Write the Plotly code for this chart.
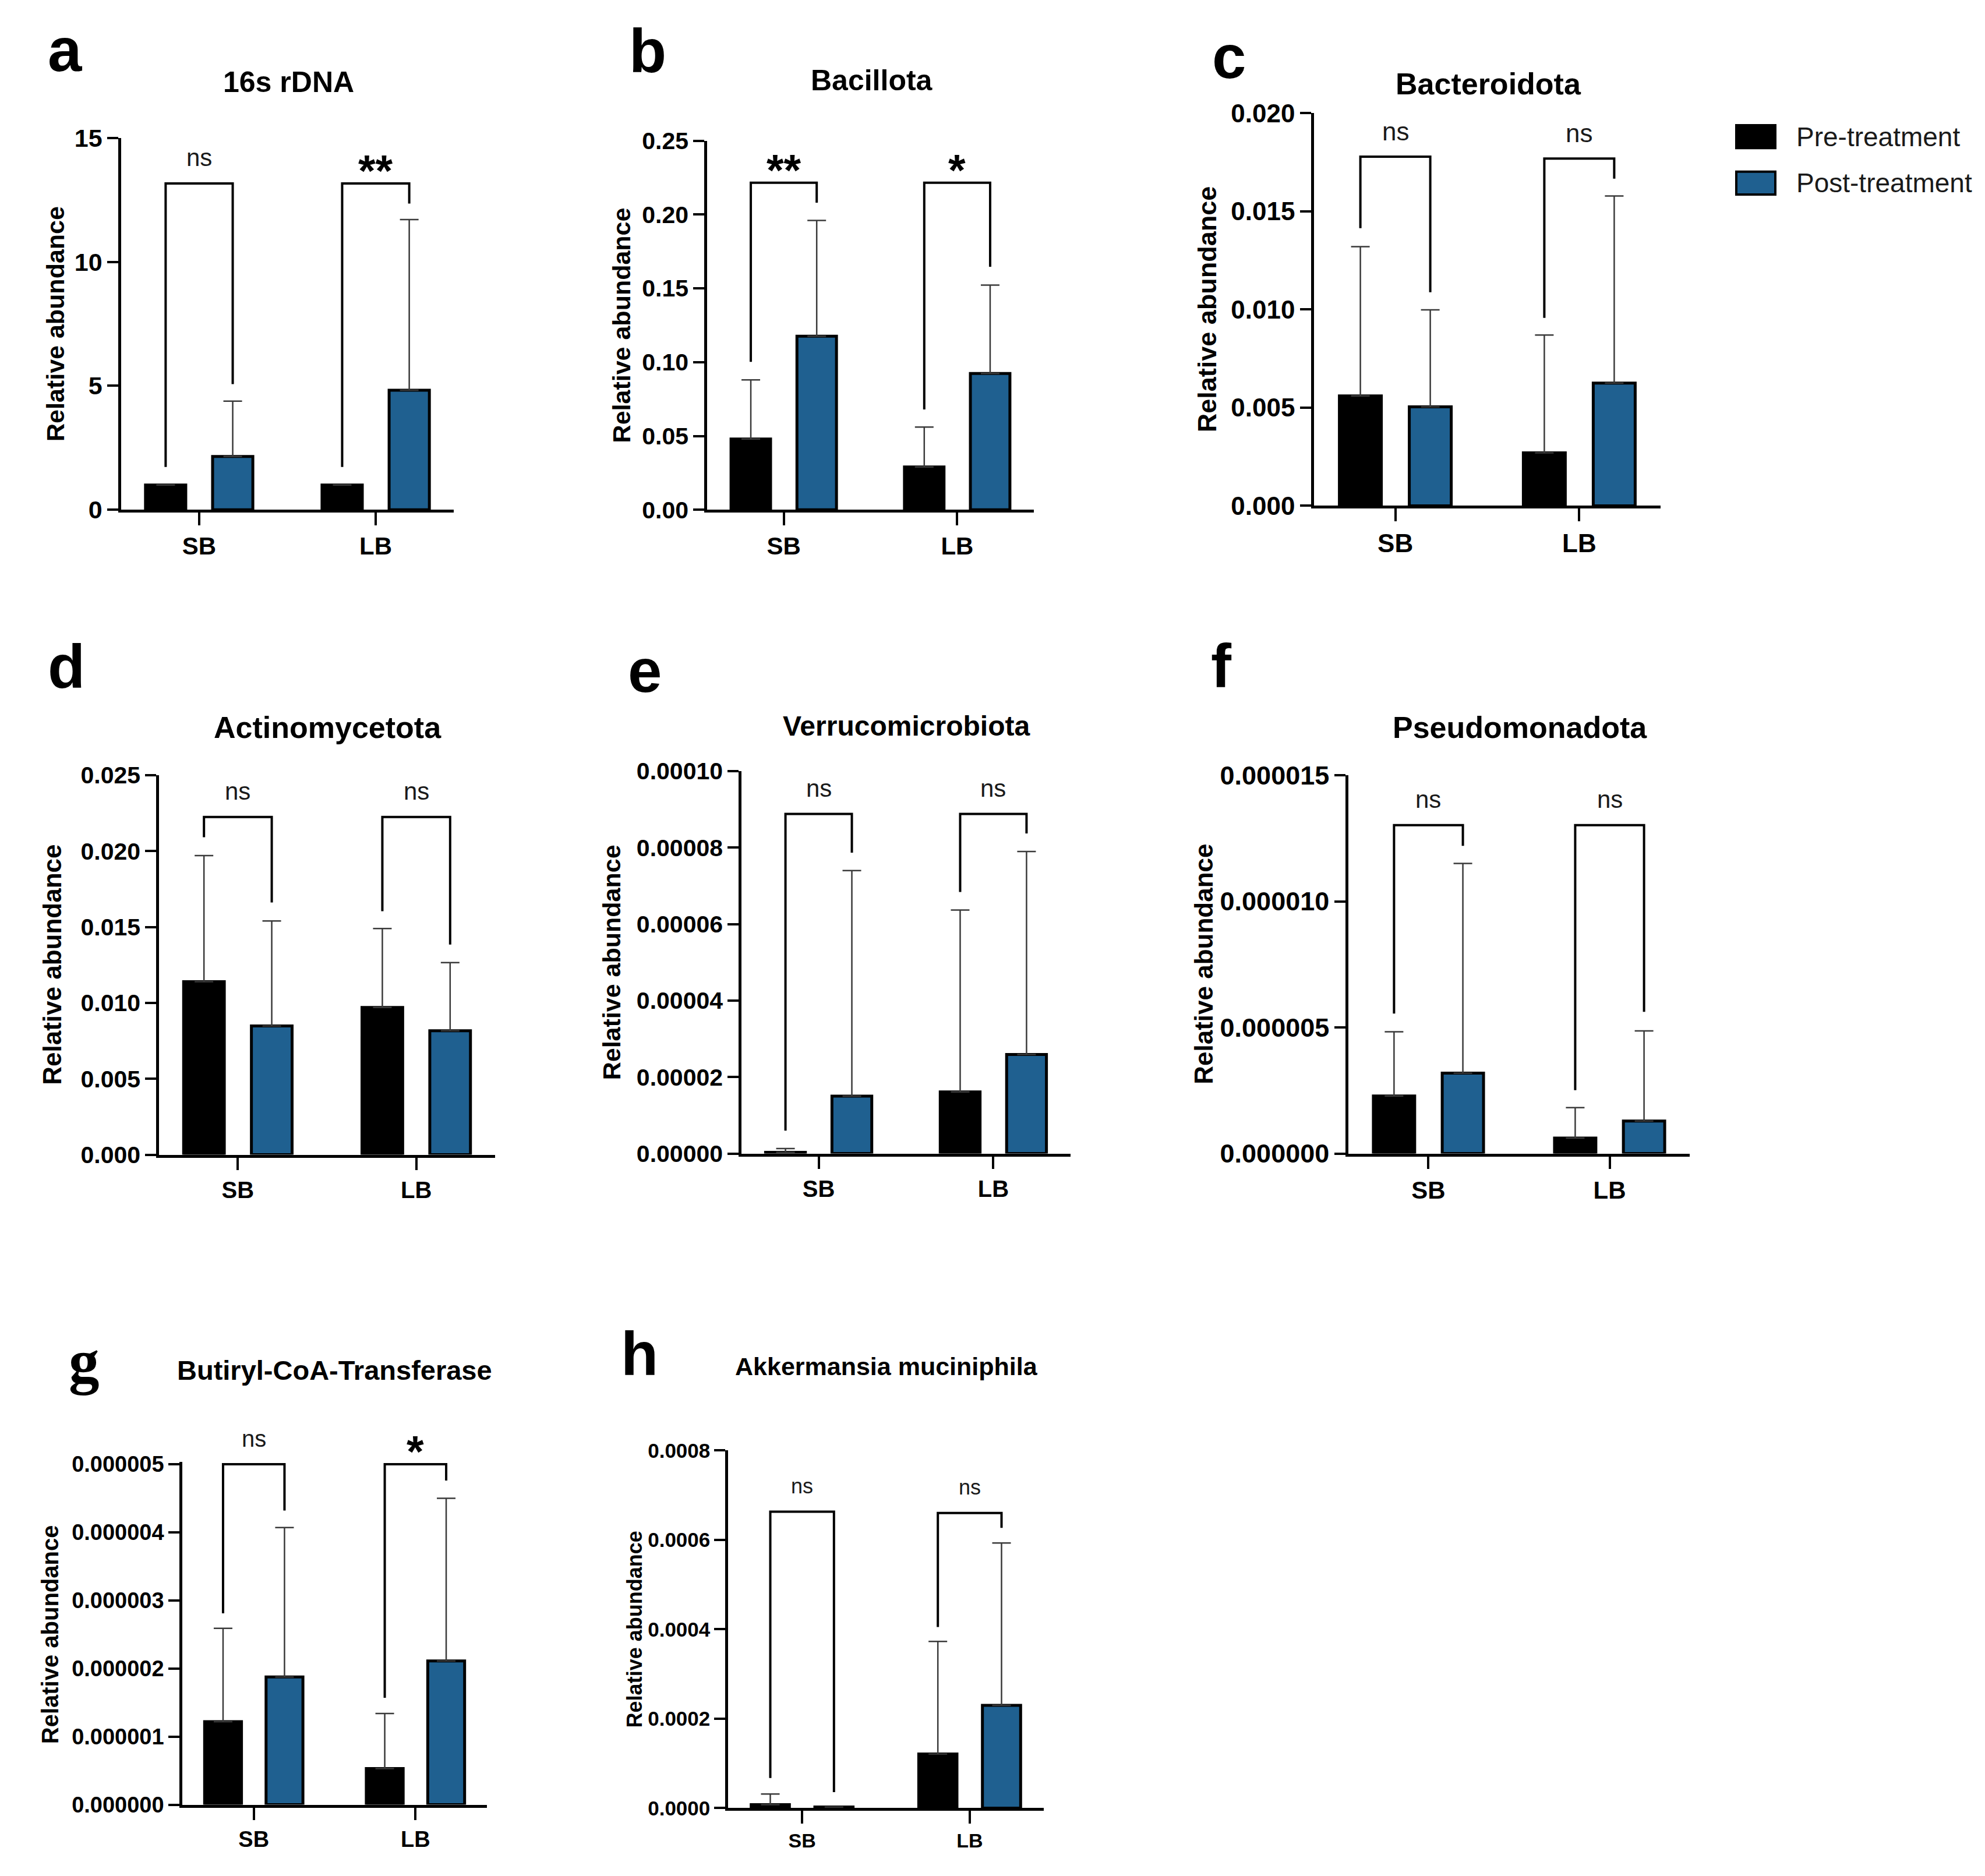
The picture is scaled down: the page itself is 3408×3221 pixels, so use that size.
import plotly.graph_objects as go

W = 3408
H = 3221

groups = ["SB", "LB"]
letters = ["a", "b", "c", "d", "e", "f", "g", "h"]
titles = ["16s rDNA", "Bacillota", "Bacteroidota", "Actinomycetota",
          "Verrucomicrobiota", "Pseudomonadota", "Butiryl-CoA-Transferase",
          "Akkermansia muciniphila"]
legend_labels = ["Pre-treatment", "Post-treatment"]

# bar heights (SB, LB) and the upper error bar length, per panel
pre_mean = [
    [1.0, 1.0],
    [0.048, 0.029],
    [0.0056, 0.0027],
    [0.0114, 0.0097],
    [0.0000003, 0.0000161],
    [0.00000228, 0.00000061],
    [0.00000122, 0.00000053],
    [0.0000079, 0.000121],
]
pre_sd = [
    [0, 0],
    [0.040, 0.027],
    [0.0076, 0.0060],
    [0.0083, 0.0052],
    [0.000001, 0.0000476],
    [0.00000255, 0.00000121],
    [0.00000137, 0.00000081],
    [0.0000238, 0.000252],
]
post_mean = [
    [2.15, 4.82],
    [0.1176, 0.0923],
    [0.00504, 0.00625],
    [0.00848, 0.00816],
    [0.0000150, 0.0000259],
    [0.00000319, 0.00000129],
    [0.000001875, 0.00000211],
    [0.0000024, 0.000230],
]
post_sd = [
    [2.23, 6.88],
    [0.0784, 0.0599],
    [0.00494, 0.00953],
    [0.00692, 0.00449],
    [0.0000590, 0.0000531],
    [0.00000831, 0.00000357],
    [0.000002195, 0.00000239],
    [0, 0.000363],
]

# significance brackets: label, top, bottom of left leg, bottom of right leg
sig_labels = [
    ["ns", "**"], ["**", "*"], ["ns", "ns"], ["ns", "ns"],
    ["ns", "ns"], ["ns", "ns"], ["ns", "*"], ["ns", "ns"],
]
bracket_top = [
    [13.16, 13.16],
    [0.2215, 0.2215],
    [0.01778, 0.01769],
    [0.02225, 0.02225],
    [0.0000888, 0.0000888],
    [0.00001302, 0.00001302],
    [0.000005, 0.000005],
    [0.000663, 0.00066],
]
bracket_left = [
    [1.73, 1.73],
    [0.1002, 0.068],
    [0.01414, 0.00957],
    [0.02091, 0.01604],
    [0.0000060, 0.0000684],
    [0.00000555, 0.00000251],
    [0.00000281, 0.00000157],
    [0.0000675, 0.000405],
]
bracket_right = [
    [5.07, 12.35],
    [0.208, 0.1646],
    [0.01088, 0.01666],
    [0.01662, 0.01384],
    [0.0000787, 0.0000837],
    [0.0000122, 0.00000562],
    [0.00000432, 0.00000476],
    [0.0000357, 0.000627],
]

y_ticks = [
    ["0", "5", "10", "15"],
    ["0.00", "0.05", "0.10", "0.15", "0.20", "0.25"],
    ["0.000", "0.005", "0.010", "0.015", "0.020"],
    ["0.000", "0.005", "0.010", "0.015", "0.020", "0.025"],
    ["0.00000", "0.00002", "0.00004", "0.00006", "0.00008", "0.00010"],
    ["0.000000", "0.000005", "0.000010", "0.000015"],
    ["0.000000", "0.000001", "0.000002", "0.000003", "0.000004", "0.000005"],
    ["0.0000", "0.0002", "0.0004", "0.0006", "0.0008"],
]
y_max = [15, 0.25, 0.020, 0.025, 0.0001, 0.000015, 0.00000503, 0.0008]

# layout (pixels): plot box left, right, top tick, zero line
boxes = [
    (208, 779, 215, 864),
    (1214, 1775, 220, 864),
    (2256, 2851, 172, 857),
    (273, 850, 1327, 1989),
    (1273, 1838, 1320, 1987),
    (2315, 2901, 1327, 1987),
    (313, 836, 2529, 3123),
    (1250, 1792, 2505, 3129),
]
title_pos = [(495, 118), (1497, 115), (2555, 121), (562, 1244),
             (1556, 1241), (2609, 1244), (574, 2365), (1522, 2358)]
letter_pos = [(112, 61), (1112, 64), (2110, 74), (114, 1138),
              (1107, 1145), (2097, 1137), (144, 2350), (1098, 2337)]
ytitle_x = [95, 1067, 2072, 90, 1050, 2067, 86, 1089]
title_size = [50, 50, 52, 52, 48, 52, 47, 43]
tick_size = [43, 41, 44, 41, 41, 45, 38, 35]
cat_size = [42, 42, 44, 40, 40, 42, 38, 34]
ytitle_size = [43, 43, 45, 44, 43, 44, 40, 36]
ns_size = [42, 42, 44, 42, 42, 42, 40, 36]

FONT = "Liberation Sans, Arial, sans-serif"
BLUE = "#1f6090"
BARGAP = 0.24
BARGROUPGAP = 0.4
X_PAD = 0.442


def px(x, y):
    return x / W, 1 - y / H


fig = go.Figure()
shapes = []
annotations = []

for i in range(len(titles)):
    n = "" if i == 0 else str(i + 1)
    pos = list(range(len(groups)))

    series = [(pre_mean[i], pre_sd[i], "black", legend_labels[0]),
              (post_mean[i], post_sd[i], BLUE, legend_labels[1])]
    for mean, sd, color, name in series:
        fig.add_trace(go.Bar(
            x=pos, y=mean, name=name,
            error_y=dict(type="data", array=sd, arrayminus=[0] * len(sd),
                         symmetric=False, color="#3a3a3a", thickness=2.5, width=16),
            marker=dict(color=color, line=dict(color="black", width=5)),
            xaxis="x" + n, yaxis="y" + n, showlegend=False,
        ))

    left, right, top, bottom = boxes[i]
    tickvals = [float(t) for t in y_ticks[i]]
    scale = (bottom - top) / tickvals[-1]
    dom_top = bottom - y_max[i] * scale

    fig.update_layout(**{
        "xaxis" + n: dict(
            domain=[left / W, right / W], anchor="y" + n,
            range=[-X_PAD, len(groups) - 1 + X_PAD],
            tickvals=pos, ticktext=groups,
            showline=True, linecolor="black", linewidth=4.5,
            ticks="outside", ticklen=22, tickwidth=4, tickcolor="black",
            showgrid=False, zeroline=False,
            tickfont=dict(family=FONT, size=cat_size[i], color="black", weight="bold"),
        ),
        "yaxis" + n: dict(
            domain=[1 - bottom / H, 1 - dom_top / H], anchor="x" + n,
            range=[0, y_max[i]],
            tickvals=tickvals, ticktext=y_ticks[i],
            showline=True, linecolor="black", linewidth=4.5,
            ticks="outside", ticklen=19, tickwidth=4, tickcolor="black",
            showgrid=False, zeroline=False,
            tickfont=dict(family=FONT, size=tick_size[i], color="black", weight="bold"),
        ),
    })

    # significance brackets
    half = (1 - BARGAP) / 4
    for j in range(len(groups)):
        xl = pos[j] - half
        xr = pos[j] + half
        path = "M{:.4f},{:.12f} L{:.4f},{:.12f} L{:.4f},{:.12f} L{:.4f},{:.12f}".format(
            xl, bracket_left[i][j], xl, bracket_top[i][j],
            xr, bracket_top[i][j], xr, bracket_right[i][j])
        shapes.append(dict(type="path", path=path, xref="x" + n, yref="y" + n,
                           line=dict(color="black", width=4), layer="above"))
        label = sig_labels[i][j]
        if label == "ns":
            annotations.append(dict(
                x=pos[j], y=bracket_top[i][j], xref="x" + n, yref="y" + n,
                text=label, showarrow=False, yanchor="middle", yshift=44,
                font=dict(family=FONT, size=ns_size[i], color="#1a1a1a")))
        else:
            annotations.append(dict(
                x=pos[j], y=bracket_top[i][j], xref="x" + n, yref="y" + n,
                text=label, showarrow=False, yanchor="middle", yshift=22,
                font=dict(family=FONT, size=76, color="black", weight="bold")))

    tx, ty = px(*title_pos[i])
    annotations.append(dict(
        x=tx, y=ty, xref="paper", yref="paper", text=titles[i], showarrow=False,
        xanchor="center", yanchor="middle",
        font=dict(family=FONT, size=title_size[i], color="black", weight="bold")))

    lx, ly = px(*letter_pos[i])
    letter_font = "Liberation Serif, Times New Roman, serif" if letters[i] == "g" else FONT
    annotations.append(dict(
        x=lx, y=ly, xref="paper", yref="paper", text=letters[i], showarrow=False,
        xanchor="center", yanchor="middle",
        font=dict(family=letter_font, size=105, color="black", weight="bold")))

    yx, yy = px(ytitle_x[i], (top + bottom) / 2)
    annotations.append(dict(
        x=yx, y=yy, xref="paper", yref="paper", text="Relative abundance",
        showarrow=False, textangle=-90, xanchor="center", yanchor="middle",
        font=dict(family=FONT, size=ytitle_size[i], color="black", weight="bold")))

# legend drawn by hand so the swatches match the panel size
legend_colors = ["black", BLUE]
legend_rows = [213, 294]
for k in range(len(legend_labels)):
    y0 = legend_rows[k] - 20
    y1 = legend_rows[k] + 20
    shapes.append(dict(type="rect", xref="paper", yref="paper",
                       x0=2981 / W, x1=3048 / W, y0=1 - y1 / H, y1=1 - y0 / H,
                       fillcolor=legend_colors[k], line=dict(color="black", width=4)))
    annotations.append(dict(
        x=3082 / W, y=1 - legend_rows[k] / H, xref="paper", yref="paper",
        text=legend_labels[k], showarrow=False, xanchor="left", yanchor="middle",
        font=dict(family=FONT, size=46, color="#1a1a1a")))

fig.update_layout(
    width=W, height=H,
    margin=dict(l=0, r=0, t=0, b=0),
    paper_bgcolor="white", plot_bgcolor="white",
    barmode="group", bargap=BARGAP, bargroupgap=BARGROUPGAP,
    shapes=shapes, annotations=annotations,
    showlegend=False,
)

fig.write_html("out.html", config={"displayModeBar": False},
               post_script="document.body.style.margin='0';")
